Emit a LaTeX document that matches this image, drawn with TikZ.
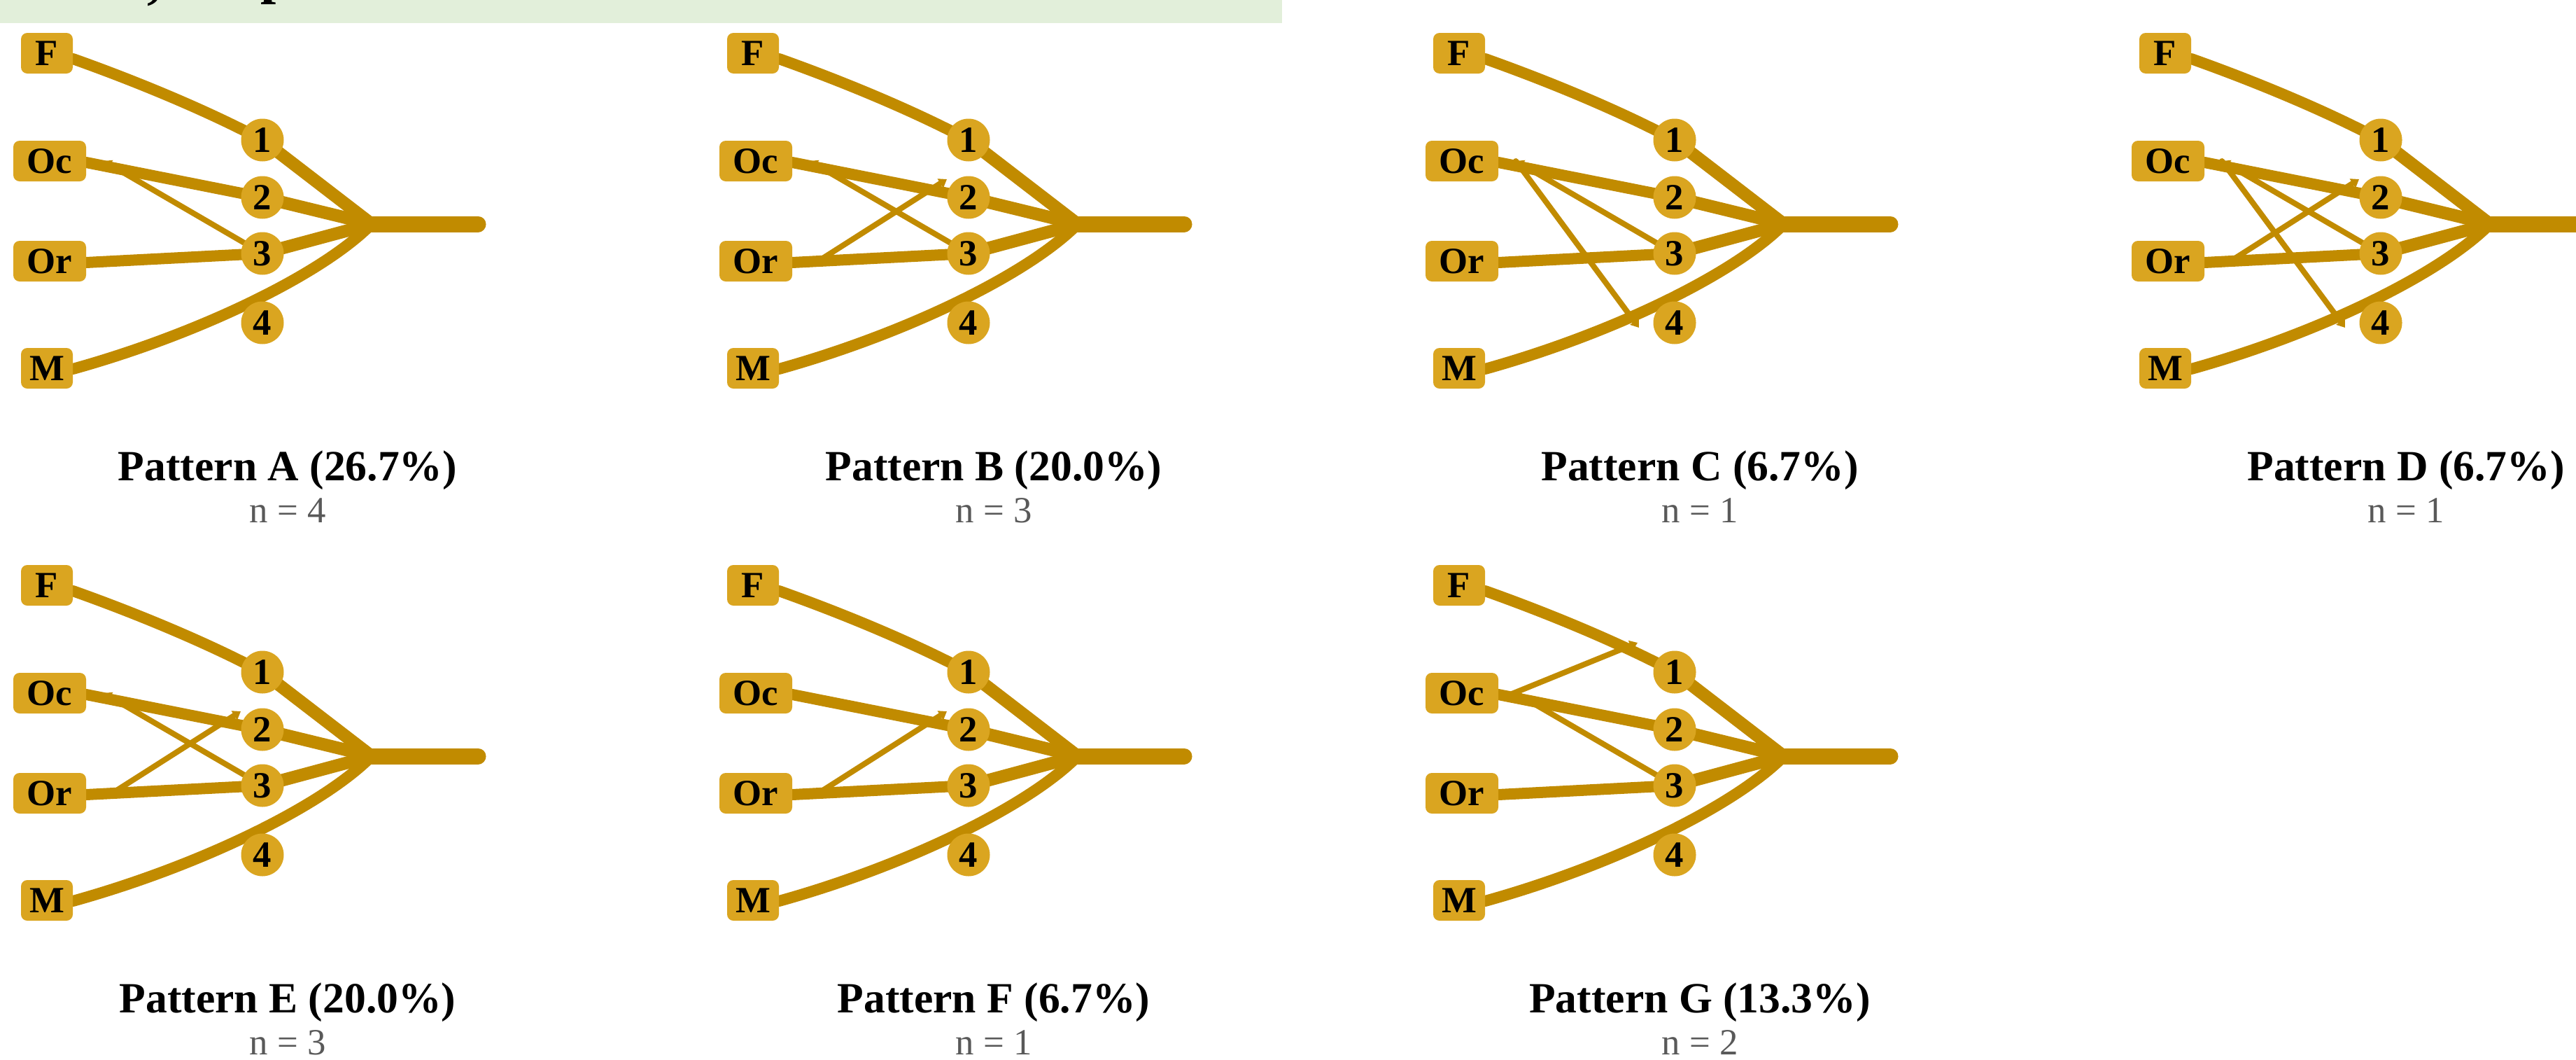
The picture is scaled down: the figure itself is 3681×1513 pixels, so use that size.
\documentclass[tikz,border=0pt]{standalone}
\usepackage{fontspec}
\setmainfont{Liberation Serif}
\usetikzlibrary{arrows.meta}
\pgfdeclarelayer{bg}
\pgfdeclarelayer{links}
\pgfsetlayers{bg,links,main}
\definecolor{gold}{HTML}{DAA520}
\definecolor{linkgold}{HTML}{C18B00}
\definecolor{band}{HTML}{E2EFDA}
\definecolor{subgray}{HTML}{595959}

\tikzset{
  srcbox/.style={fill=gold, rounded corners=9pt, minimum height=58pt, inner sep=0pt,
    font=\bfseries\fontsize{52.8}{60}\selectfont, text=black},
  stepnum/.style={circle, fill=gold, minimum size=61pt, inner sep=0pt,
    font=\bfseries\fontsize{52.8}{60}\selectfont, text=black},
  flow/.style={draw=linkgold, line width=16pt, line cap=round},
  trunk/.style={draw=linkgold, line width=18pt, line cap=round},
  stem/.style={draw=linkgold, line width=23pt, line cap=round},
  cross/.style={draw=linkgold, line width=8pt, line cap=round},
  tipend/.style={-{Triangle[length=11pt,width=15pt]}},
  tipstart/.style={{Triangle[length=11pt,width=15pt]}-},
  ptitle/.style={font=\bfseries\fontsize{61.6}{70}\selectfont, text=black},
  pcount/.style={font=\fontsize{52.8}{60}\selectfont, text=subgray},
}

% One panel: four sources, four numbered steps, merging into a single stem.
% #1 prefix, #2 offset, #3 title, #4 count
\newcommand\patternpanel[4]{%
\begin{scope}[shift={(#2)}]
  \node[srcbox, minimum width=74pt]  (#1-F)  at (67,76)  {F};
  \node[srcbox, minimum width=104pt] (#1-Oc) at (71,230) {Oc};
  \node[srcbox, minimum width=104pt] (#1-Or) at (71,373) {Or};
  \node[srcbox, minimum width=74pt]  (#1-M)  at (67,526) {M};
  \node[stepnum] (#1-1) at (375,200) {1};
  \node[stepnum] (#1-2) at (375,282) {2};
  \node[stepnum] (#1-3) at (375,362) {3};
  \node[stepnum] (#1-4) at (375,461) {4};
  \coordinate (#1-J) at (531,320);
  \coordinate (#1-S) at (683,320);
  \coordinate (#1-ocs) at (148,230);
  \coordinate (#1-ors) at (165,370);
  \coordinate (#1-oce1) at (322,158);
  \coordinate (#1-oce4) at (324,468);
  \coordinate (#1-ore2) at (344,256);
  \node[ptitle] (#1-title) at (411,672) {#3};
  \node[pcount] (#1-n) at (411,729) {n = #4};
  \begin{pgfonlayer}{links}
    \draw[flow] ([yshift=-8pt]#1-F.east) .. controls (200,118) and (300,160) .. (#1-1.center);
    \draw[flow] ([yshift=-2pt]#1-Oc.east) -- (#1-2.center);
    \draw[flow] ([yshift=-2pt]#1-Or.east) -- (#1-3.center);
    \draw[flow] ([yshift=-1pt]#1-M.east) .. controls (284,477) and (460,392) .. (#1-J);
    \draw[trunk] (#1-1.center) -- (#1-J);
    \draw[trunk] (#1-2.center) -- (#1-J);
    \draw[trunk] (#1-3.center) -- (#1-J);
    \draw[stem] (#1-J) -- (#1-S);
  \end{pgfonlayer}
\end{scope}}

\begin{document}
\begin{tikzpicture}[x=1pt,y=-1pt]
  \useasboundingbox (0,0) rectangle (3681,1513);
  \begin{pgfonlayer}{bg}
    \fill[white] (0,0) rectangle (3681,1513);
    \fill[band] (0,0) rectangle (1832,33);
  \end{pgfonlayer}

  % heading line above the panels, only its descenders fall inside the page
  \begin{scope}
    \clip (0,0) rectangle (1832,33);
    \node[anchor=base, inner sep=0pt, font=\bfseries\fontsize{80}{90}\selectfont] (hdcomma) at (220,-4) {,};
    \node[anchor=base, inner sep=0pt, font=\bfseries\fontsize{80}{90}\selectfont] (hdp) at (395,-11) {p};
  \end{scope}

  \patternpanel{A}{0,0}{Pattern A (26.7\%)}{4}
  \patternpanel{B}{1009,0}{Pattern B (20.0\%)}{3}
  \patternpanel{C}{2018,0}{Pattern C (6.7\%)}{1}
  \patternpanel{D}{3027,0}{Pattern D (6.7\%)}{1}
  \patternpanel{E}{0,760}{Pattern E (20.0\%)}{3}
  \patternpanel{F}{1009,760}{Pattern F (6.7\%)}{1}
  \patternpanel{G}{2018,760}{Pattern G (13.3\%)}{2}

  % cross links that distinguish the patterns
  \begin{pgfonlayer}{links}
    \draw[cross, tipstart] (A-ocs) -- (A-3);

    \draw[cross, tipstart] (B-ocs) -- (B-3);
    \draw[cross, tipend] (B-ors) -- (B-ore2);

    \draw[cross, tipstart] (C-ocs) -- (C-3);
    \draw[cross, tipend] (C-ocs) -- (C-oce4);

    \draw[cross, tipstart] (D-ocs) -- (D-3);
    \draw[cross, tipend] (D-ocs) -- (D-oce4);
    \draw[cross, tipend] (D-ors) -- (D-ore2);

    \draw[cross, tipstart] (E-ocs) -- (E-3);
    \draw[cross, tipend] (E-ors) -- (E-ore2);

    \draw[cross, tipend] (F-ors) -- (F-ore2);

    \draw[cross, tipend] ([xshift=-8pt,yshift=-2pt]G-ocs) -- (G-oce1);
    \draw[cross] (G-ocs) -- (G-3);
  \end{pgfonlayer}
\end{tikzpicture}
\end{document}
